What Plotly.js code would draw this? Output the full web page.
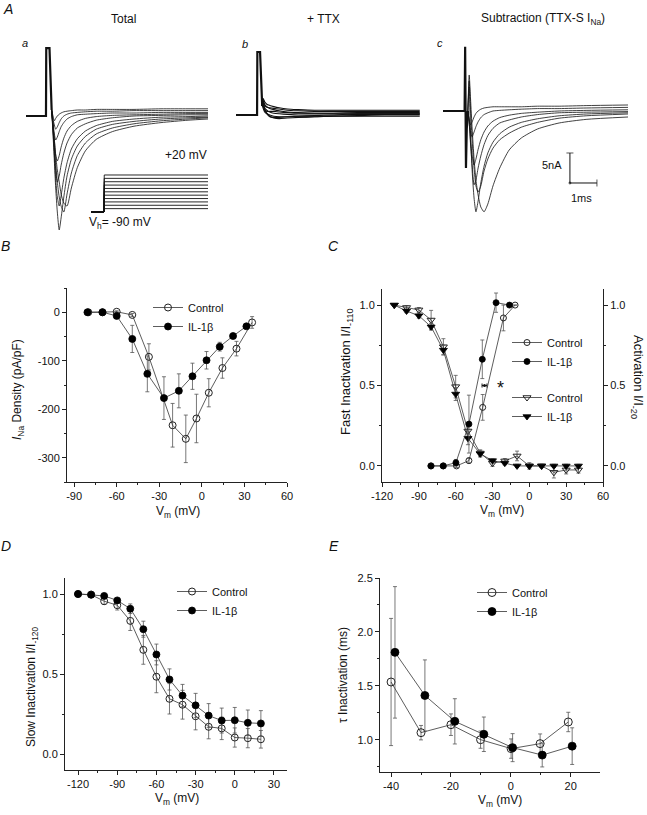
<!DOCTYPE html>
<html>
<head>
<meta charset="utf-8">
<script src="https://cdn.plot.ly/plotly-3.0.1.min.js"></script>
<style>
  html, body { margin: 0; padding: 0; background: #fff; }
  #chart { width: 647px; height: 815px; }
</style>
</head>
<body>
<div id="chart"></div>
<script>
// ---------- Panel A: current recordings (ms, nA) ----------
const spikeTimesA = [0, 0.74, 0.75, 0.87, 0.95];
const spikeA = [0, 0, 11.3, 11.3, 1];
const timesA = [0.95, 1.0, 1.05, 1.1, 1.16, 1.23, 1.3, 1.4, 1.52, 1.68, 1.9, 2.2, 2.6, 3.2, 4.0, 5.0, 6.0, 6.75];
const totalTraces = [
  [1, 0, -0.8, -0.4, 0, 0.3, 0.5, 0.7, 0.8, 0.9, 1.0, 1.0, 1.1, 1.1, 1.1, 1.2, 1.2, 1.2],
  [1, -0.5, -1.5, -2.2, -1.8, -1.1, -0.5, 0, 0.3, 0.5, 0.6, 0.7, 0.8, 0.8, 0.9, 0.9, 0.9, 0.9],
  [1, -1, -3, -4, -3.5, -2.6, -1.8, -1.1, -0.5, -0.1, 0.2, 0.3, 0.4, 0.5, 0.5, 0.6, 0.6, 0.6],
  [1, -1.5, -4, -6.5, -7.5, -6.6, -5.2, -3.7, -2.5, -1.6, -0.9, -0.4, -0.1, 0.1, 0.2, 0.3, 0.4, 0.4],
  [1, -2, -5.5, -9, -11, -10, -8.2, -6.2, -4.5, -3.1, -2.0, -1.3, -0.7, -0.3, 0, 0.1, 0.2, 0.2],
  [1, -2.5, -6.5, -10.5, -13.5, -15, -13.3, -10.4, -7.8, -5.5, -3.8, -2.5, -1.6, -0.9, -0.5, -0.2, -0.1, 0],
  [1, -3, -7.5, -12, -16, -19, -17, -13.5, -10, -7.2, -5.0, -3.4, -2.2, -1.4, -0.9, -0.5, -0.3, -0.2],
  [1, -2, -5, -8, -11, -13.5, -15, -16, -13, -9.5, -6.6, -4.5, -3.0, -2.0, -1.3, -0.8, -0.5, -0.3],
  [1, -1.5, -4, -6.5, -9, -11, -13, -14.5, -15, -12, -8.6, -5.8, -3.9, -2.6, -1.7, -1.1, -0.7, -0.5]
];

const protoTimes = [0, 0.48, 0.49, 4.33];
const holdingMv = -90;
const stepLevels = [-80, -70, -60, -50, -40, -30, -20, -10, 0, 10, 20];

const spikeTimesB = [0, 0.78, 0.79, 0.89, 0.97];
const spikeB = [0, 0, 10.5, 10.5, 1.5];
const timesB = [0.97, 1.0, 1.06, 1.14, 1.25, 1.4, 1.6, 1.9, 2.3, 2.9, 3.6, 4.5, 5.5, 6.8];
const ttxTraces = [
  [1.5, 1.2, 0.5, 0.2, 0, -0.2, -0.3, -0.3, -0.3, -0.3, -0.2, -0.2, -0.2, -0.2],
  [1.5, 2.0, 1.2, 0.8, 0.5, 0.3, 0.2, 0.1, 0, 0, 0, 0.1, 0.1, 0.1],
  [1.5, 2.5, 1.8, 1.4, 1.1, 0.9, 0.7, 0.5, 0.4, 0.3, 0.3, 0.4, 0.4, 0.4],
  [1.5, 2.3, 1.6, 1.3, 1.2, 1.1, 1.0, 0.8, 0.7, 0.6, 0.6, 0.6, 0.6, 0.6],
  [1.5, 1.8, 0.8, 0.3, -0.2, -0.5, -0.6, -0.5, -0.4, -0.3, -0.2, -0.1, 0, 0],
  [1.5, 2.8, 2.2, 1.8, 1.6, 1.4, 1.2, 1.0, 0.9, 0.8, 0.8, 0.8, 0.8, 0.8],
  [1.5, 1.6, 0.9, 0.6, 0.6, 0.6, 0.5, 0.4, 0.3, 0.3, 0.3, 0.3, 0.3, 0.3],
  [1.5, 2.2, 1.0, 0.2, -0.3, -0.4, -0.4, -0.3, -0.2, -0.1, 0, 0.2, 0.2, 0.2]
];

const artifactTimesC = [0, 0.80, 0.82, 0.85, 0.88, 0.92];
const artifactC = [0, 0, 10.7, -9.5, -3, 0];
const timesC = [0.92, 0.97, 1.02, 1.08, 1.15, 1.22, 1.30, 1.40, 1.52, 1.66, 1.85, 2.1, 2.45, 2.9, 3.5, 4.3, 5.3, 6.85];
const subtractedTraces = [
  [0, -1.5, -2.3, -1.8, -1.0, -0.4, 0, 0.3, 0.5, 0.6, 0.7, 0.7, 0.7, 0.7, 0.8, 0.8, 0.9, 1.0],
  [0, -1.5, -3.5, -4.3, -3.5, -2.6, -1.8, -1.1, -0.6, -0.3, 0, 0.1, 0.2, 0.3, 0.4, 0.4, 0.5, 0.6],
  [0, -2, -5, -7.5, -9, -8, -6.4, -4.8, -3.5, -2.5, -1.7, -1.1, -0.7, -0.4, -0.2, 0, 0.1, 0.2],
  [0, -2, -5.5, -9, -12.3, -11.5, -9.5, -7.5, -5.6, -4.1, -2.9, -2.0, -1.5, -1.0, -0.6, -0.3, -0.2, -0.1],
  [0, 4, -4, -10, -14.5, -16.8, -15, -12, -9.2, -7, -5.2, -3.8, -2.7, -1.9, -1.3, -0.8, -0.5, -0.3],
  [0, 5, 0, -5, -9.5, -12.5, -13.5, -12.5, -10, -8, -6.2, -4.8, -3.7, -2.7, -1.9, -1.2, -0.8, -0.5],
  [0, 6, 2, -3, -8, -11.5, -14, -16, -16.8, -15.5, -12.5, -9.5, -6.5, -4.5, -3.0, -2.0, -1.4, -1.0]
];
const scaleBarX = [4.7, 4.7, 5.7];
const scaleBarY = [-7.0, -12.0, -12.0];

// ---------- Panel B: I-V ----------
const bVmCtrl = [-80, -70, -60, -49, -37.3, -20.6, -11.3, -3.8, 4.9, 14.5, 24.4, 35.4];
const bICtrl = [0, 0, 1, -5.5, -92, -233, -261, -219, -166, -115, -75, -21];
const bErrCtrl = [0, 0, 2, 3, 27, 45, 49, 50, 29, 21, 15, 12];
const bVmIl = [-80.6, -70, -60, -49, -38.4, -26.7, -16.2, -6.6, 3.3, 12.6, 22, 31.4];
const bIIl = [0, 0, -7.5, -55, -127, -177, -162, -132, -99, -71, -49, -29];
const bErrIl = [0, 0, 3, 28, 37, 44, 35, 27, 18, 9, 4, 4];

// ---------- Panel C: activation / fast inactivation ----------
const cVmActCtrl = [-80, -70, -59.3, -49.2, -38, -21.1, -11.6];
const cActCtrl = [0, 0, 0, 0.033, 0.364, 0.92, 1.0];
const cErrActCtrl = [0, 0, 0.01, 0.015, 0.08, 0.08, 0];
const cVmActIl = [-80.2, -70.2, -59.8, -49.2, -38.3, -27.1, -16.2];
const cActIl = [0, 0, 0.02, 0.26, 0.663, 1.015, 1.0];
const cErrActIl = [0, 0, 0.02, 0.18, 0.12, 0.06, 0];
const cVmInact = [-110, -100, -90, -80, -70, -60, -50, -40, -30, -20, -10, 0, 10, 20, 30, 40];
const cInactCtrl = [1.0, 0.985, 0.97, 0.907, 0.741, 0.493, 0.217, 0.08, 0.017, 0.031, 0.062, 0, 0, -0.04, -0.025, -0.025];
const cErrInactCtrl = [0, 0.01, 0.015, 0.06, 0.05, 0.07, 0.04, 0.02, 0.02, 0.015, 0.03, 0.02, 0.01, 0.035, 0.025, 0.02];
const cInactIl = [1.0, 0.963, 0.934, 0.865, 0.72, 0.447, 0.172, 0.075, 0.033, 0.017, 0, 0, 0, 0, 0, 0];
const cErrInactIl = [0, 0.01, 0.015, 0.02, 0.03, 0.04, 0.04, 0.02, 0.01, 0.01, 0.01, 0.01, 0.01, 0.01, 0.01, 0.01];
const cHalfVm = [-36.5];
const cHalfLevel = [0.5];
const cHalfErr = [2];

// ---------- Panel D: slow inactivation ----------
const dVm = [-120, -110, -100, -90, -80, -70, -60, -50, -40, -30, -20, -10, 0, 10, 20];
const dSlowCtrl = [1.0, 0.996, 0.955, 0.93, 0.832, 0.651, 0.483, 0.345, 0.308, 0.236, 0.17, 0.16, 0.103, 0.099, 0.092];
const dErrCtrl = [0, 0.01, 0.02, 0.03, 0.06, 0.09, 0.1, 0.095, 0.09, 0.085, 0.075, 0.07, 0.06, 0.06, 0.055];
const dSlowIl = [1.0, 0.996, 0.988, 0.96, 0.908, 0.78, 0.622, 0.466, 0.365, 0.304, 0.24, 0.209, 0.211, 0.195, 0.191];
const dErrIl = [0, 0.005, 0.01, 0.01, 0.03, 0.05, 0.065, 0.066, 0.07, 0.075, 0.075, 0.078, 0.08, 0.08, 0.08];

// ---------- Panel E: tau inactivation ----------
const eVmCtrl = [-40, -30, -20, -10.1, 0.1, 9.8, 19.2];
const eTauCtrl = [1.535, 1.065, 1.139, 1.0, 0.917, 0.963, 1.164];
const eErrCtrl = [0.59, 0.067, 0.1, 0.08, 0.09, 0.09, 0.09];
const eVmIl = [-38.7, -28.7, -18.7, -9, 0.6, 10.5, 20.5];
const eTauIl = [1.81, 1.41, 1.17, 1.05, 0.926, 0.857, 0.94];
const eErrIl = [0.61, 0.33, 0.21, 0.16, 0.13, 0.11, 0.17];

// tick labels
const bTicksX = [-90, -60, -30, 0, 30, 60];
const bTicksY = [-300, -200, -100, 0];
const cTicksX = [-120, -90, -60, -30, 0, 30, 60];
const fracTicks = [0, 0.5, 1.0];
const dTicksX = [-120, -90, -60, -30, 0, 30];
const eTicksX = [-40, -20, 0, 20];
const eTicksY = [1.0, 1.5, 2.0, 2.5];

// ---------- layout helpers ----------
const W = 647, H = 815;
const FONT = 'Liberation Sans, Arial, Helvetica, sans-serif';
const px = x => x / W;
const py = y => 1 - y / H;
const xdom = (a, b) => [px(a), px(b)];
const ydom = (top, bottom) => [py(bottom), py(top)];

const hiddenAxis = (domain, range) => ({
  domain, range, visible: false, fixedrange: true, showgrid: false, zeroline: false
});

function plotAxis(domain, range, ticks, fmt, minorDtick, minorStart, anchor) {
  return {
    domain, range, anchor,
    showline: true, linecolor: '#222', linewidth: 1,
    ticks: 'outside', ticklen: 4, tickwidth: 1, tickcolor: '#222',
    tickmode: 'array', tickvals: ticks, ticktext: ticks.map(fmt),
    tickfont: { family: FONT, size: 11, color: '#111' },
    minor: { tickmode: 'linear', tick0: minorStart, dtick: minorDtick, ticks: 'outside', ticklen: 2, tickcolor: '#222', tickwidth: 1 },
    showgrid: false, zeroline: false, fixedrange: true
  };
}
const intLabel = v => String(v);
const decLabel = v => v.toFixed(1);

const rec = (x, y, xa, ya, width) => ({
  type: 'scatter', mode: 'lines', x, y, xaxis: xa, yaxis: ya, showlegend: false,
  hoverinfo: 'skip', line: { color: '#111', width: width || 0.8, shape: 'spline', smoothing: 0.6 }
});
const recLinear = (x, y, xa, ya, width) => ({
  type: 'scatter', mode: 'lines', x, y, xaxis: xa, yaxis: ya, showlegend: false,
  hoverinfo: 'skip', line: { color: '#111', width: width || 0.8 }
});

function curve(x, y, err, xa, ya, symbol, filled, size, name, legend) {
  return {
    type: 'scatter', mode: 'lines+markers', x, y, xaxis: xa, yaxis: ya,
    name, legend, cliponaxis: false,
    line: { color: '#333', width: 0.8 },
    marker: filled
      ? { symbol, size, color: '#000', line: { color: '#000', width: 0.8 } }
      : { symbol: symbol + '-open', size, color: '#222', line: { color: '#222', width: 1 } },
    error_y: { type: 'data', array: err, visible: true, color: '#555', thickness: 0.8, width: 2 }
  };
}

// ---------- traces ----------
const traces = [];
traces.push(recLinear(spikeTimesA, spikeA, 'x', 'y', 2.2));
totalTraces.forEach(tr => traces.push(rec(timesA, tr, 'x', 'y')));
stepLevels.forEach(v => traces.push(recLinear(protoTimes, [holdingMv, holdingMv, v, v], 'x2', 'y2', 0.9)));
traces.push(recLinear(spikeTimesB, spikeB, 'x3', 'y3', 2.2));
ttxTraces.forEach(tr => traces.push(rec(timesB, tr, 'x3', 'y3', 1.1)));
traces.push(recLinear(artifactTimesC, artifactC, 'x4', 'y4', 2.2));
subtractedTraces.forEach(tr => traces.push(rec(timesC, tr, 'x4', 'y4')));
traces.push({
  type: 'scatter', mode: 'lines+markers', x: scaleBarX, y: scaleBarY, xaxis: 'x4', yaxis: 'y4',
  showlegend: false, hoverinfo: 'skip', line: { color: '#111', width: 1 },
  marker: { symbol: ['line-ew', 'circle', 'line-ns'], size: [5, 2, 5], color: '#111', line: { color: '#111', width: 1 } }
});

traces.push(curve(bVmCtrl, bICtrl, bErrCtrl, 'x5', 'y5', 'circle', false, 7, 'Control', 'legend'));
traces.push(curve(bVmIl, bIIl, bErrIl, 'x5', 'y5', 'circle', true, 7, 'IL-1β', 'legend'));

traces.push(curve(cVmActCtrl, cActCtrl, cErrActCtrl, 'x6', 'y7', 'circle', false, 6, 'Control', 'legend2'));
traces.push(curve(cVmActIl, cActIl, cErrActIl, 'x6', 'y7', 'circle', true, 6, 'IL-1β', 'legend2'));
traces.push(curve(cVmInact, cInactCtrl, cErrInactCtrl, 'x6', 'y6', 'triangle-down', false, 7, 'Control', 'legend3'));
traces.push(curve(cVmInact, cInactIl, cErrInactIl, 'x6', 'y6', 'triangle-down', true, 7, 'IL-1β', 'legend3'));
traces.push({
  type: 'scatter', mode: 'markers', x: cHalfVm, y: cHalfLevel, xaxis: 'x6', yaxis: 'y6', showlegend: false,
  marker: { size: 3, color: '#111' },
  error_x: { type: 'data', array: cHalfErr, visible: true, color: '#111', thickness: 1, width: 2 }
});

traces.push(curve(dVm, dSlowCtrl, dErrCtrl, 'x8', 'y8', 'circle', false, 7, 'Control', 'legend4'));
traces.push(curve(dVm, dSlowIl, dErrIl, 'x8', 'y8', 'circle', true, 7, 'IL-1β', 'legend4'));

traces.push(curve(eVmCtrl, eTauCtrl, eErrCtrl, 'x9', 'y9', 'circle', false, 8, 'Control', 'legend5'));
traces.push(curve(eVmIl, eTauIl, eErrIl, 'x9', 'y9', 'circle', true, 8, 'IL-1β', 'legend5'));

// ---------- annotations ----------
function label(x, y, text, size, opts) {
  return Object.assign({
    xref: 'paper', yref: 'paper', x: px(x), y: py(y), text, showarrow: false,
    xanchor: 'center', yanchor: 'middle', font: { family: FONT, size: size, color: '#111' }
  }, opts || {});
}
const annotations = [
  label(8, 9, '<i>A</i>', 14),
  label(5, 246, '<i>B</i>', 14),
  label(333, 246, '<i>C</i>', 14),
  label(6, 546, '<i>D</i>', 14),
  label(334, 546, '<i>E</i>', 14),
  label(123, 19, 'Total', 12),
  label(323, 19, '+ TTX', 12),
  label(543, 19, 'Subtraction (TTX-S I<sub>Na</sub>)', 12),
  label(25, 43, '<i>a</i>', 11),
  label(245, 44, '<i>b</i>', 11),
  label(440, 43, '<i>c</i>', 11),
  label(186, 155, '+20 mV', 12),
  label(120, 223, 'V<sub>h</sub>= -90 mV', 12),
  label(552, 165, '5nA', 11),
  label(581, 198, '1ms', 11),
  label(18, 390, '<i>I</i><sub>Na</sub> Density (pA/pF)', 12, { textangle: -90 }),
  label(178, 512, 'V<sub>m</sub> (mV)', 12),
  label(346, 372, 'Fast Inactivation I/I<sub>-110</sub>', 13, { textangle: -90 }),
  label(638, 377, 'Activation I/I<sub>-20</sub>', 13, { textangle: 90 }),
  label(502, 511, 'V<sub>m</sub> (mV)', 12),
  label(500, 388, '*', 18),
  label(32, 687, 'Slow Inactivation I/I<sub>-120</sub>', 12, { textangle: -90 }),
  label(177, 799, 'V<sub>m</sub> (mV)', 12),
  label(343, 675, 'τ Inactivation (ms)', 12, { textangle: -90 }),
  label(500, 801, 'V<sub>m</sub> (mV)', 12)
];

const legendStyle = (x, y) => ({
  x: px(x), y: py(y), xanchor: 'left', yanchor: 'top', bgcolor: 'rgba(0,0,0,0)',
  font: { family: FONT, size: 11, color: '#111' }, tracegroupgap: 0, itemwidth: 30, borderwidth: 0
});

const layout = {
  width: W, height: H,
  margin: { l: 0, r: 0, t: 0, b: 0, pad: 0 },
  paper_bgcolor: '#fff', plot_bgcolor: 'rgba(0,0,0,0)',
  font: { family: FONT, size: 11, color: '#111' },
  hovermode: false,
  // panel A recordings
  xaxis: hiddenAxis(xdom(26, 208), [0, 6.74]),
  yaxis: hiddenAxis(ydom(40, 240), [-20.67, 12.67]),
  xaxis2: hiddenAxis(xdom(91, 208), [0, 4.33]),
  yaxis2: hiddenAxis(ydom(165, 215), [-98.9, 49.7]),
  xaxis3: hiddenAxis(xdom(236, 420), [0, 6.81]),
  yaxis3: hiddenAxis(ydom(40, 240), [-20.83, 12.5]),
  xaxis4: hiddenAxis(xdom(443, 628), [0, 6.85]),
  yaxis4: hiddenAxis(ydom(40, 240), [-21.5, 11.83]),
  // panel B
  xaxis5: plotAxis(xdom(67, 287), [-95, 60], bTicksX, intLabel, 15, -75, 'y5'),
  yaxis5: plotAxis(ydom(288, 482), [-350, 50], bTicksY, intLabel, 50, -350, 'x5'),
  // panel C
  xaxis6: plotAxis(xdom(382, 603), [-120, 60], cTicksX, intLabel, 15, -105, 'y6'),
  yaxis6: plotAxis(ydom(289, 482), [-0.1, 1.1], fracTicks, decLabel, 0.25, -0.25, 'x6'),
  yaxis7: Object.assign(plotAxis(ydom(289, 482), [-0.1, 1.1], fracTicks, decLabel, 0.25, -0.25, 'x6'),
                        { overlaying: 'y6', side: 'right' }),
  // panel D
  xaxis8: plotAxis(xdom(65, 287), [-130, 40], dTicksX, intLabel, 15, -135, 'y8'),
  yaxis8: plotAxis(ydom(578, 770), [-0.1, 1.1], fracTicks, decLabel, 0.25, -0.25, 'x8'),
  // panel E
  xaxis9: plotAxis(xdom(380, 600), [-43.7, 29.8], eTicksX, intLabel, 10, -50, 'y9'),
  yaxis9: plotAxis(ydom(578, 772), [0.7, 2.5], eTicksY, decLabel, 0.25, 0.75, 'x9'),
  legend: legendStyle(148, 293),
  legend2: legendStyle(507, 328),
  legend3: legendStyle(507, 383),
  legend4: legendStyle(172, 577),
  legend5: legendStyle(472, 578),
  annotations
};

Plotly.newPlot('chart', traces, layout, { staticPlot: true, displayModeBar: false });
</script>
</body>
</html>
